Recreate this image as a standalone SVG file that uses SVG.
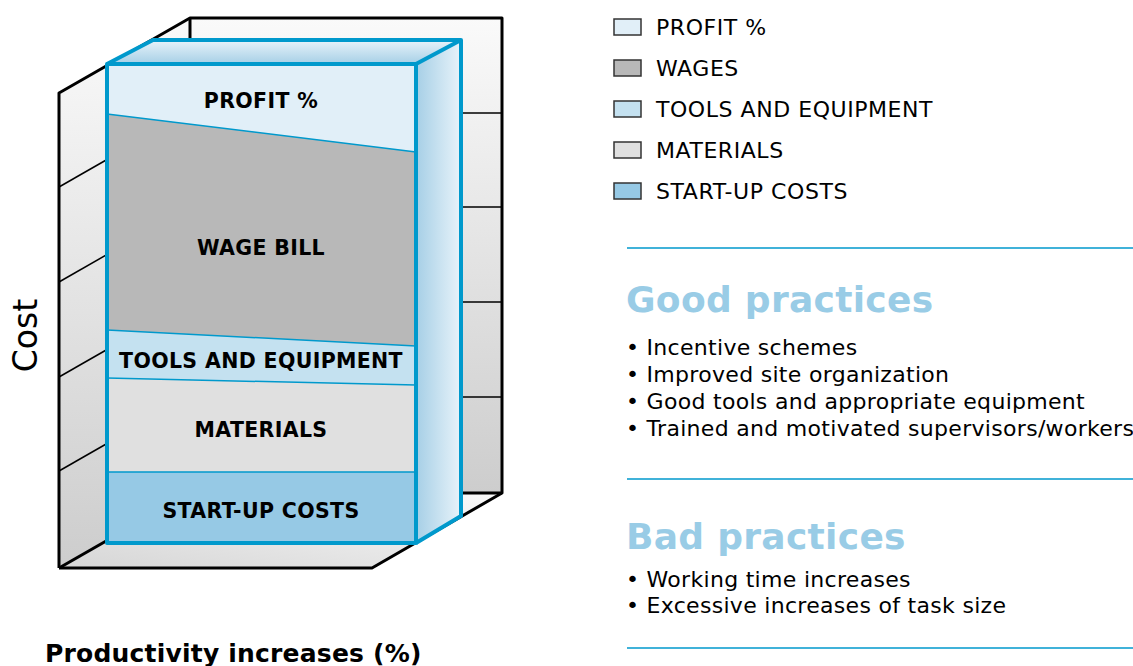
<svg xmlns="http://www.w3.org/2000/svg" width="1133" height="666" viewBox="0 0 1133 666">
<defs>
<linearGradient id="gWall" x1="0" y1="0" x2="0" y2="1">
<stop offset="0" stop-color="#fafafa"/><stop offset="1" stop-color="#cdcdcd"/>
</linearGradient>
<linearGradient id="gFloor" x1="0" y1="1" x2="1" y2="0">
<stop offset="0" stop-color="#d6d6d6"/><stop offset="1" stop-color="#fafafa"/>
</linearGradient>
<linearGradient id="gTop" x1="0" y1="0" x2="0" y2="1">
<stop offset="0" stop-color="#e8f3fa"/><stop offset="1" stop-color="#a6cfe6"/>
</linearGradient>
<linearGradient id="gSide" x1="0" y1="0" x2="1" y2="0">
<stop offset="0" stop-color="#a6cfe6"/><stop offset="1" stop-color="#e8f3fa"/>
</linearGradient>
</defs>
<style>
.frame{fill:none;stroke:#000;stroke-width:3;stroke-linejoin:round}
.grid{stroke:#000;stroke-width:1.5}
.edge{fill:none;stroke:#0099cc;stroke-width:4;stroke-linejoin:round}
.div{fill:none;stroke:#0099cc;stroke-width:1.5}
.lbl{font-family:"DejaVu Sans",Verdana,sans-serif;font-weight:bold;font-size:20.5px;letter-spacing:0.35px;fill:#000;text-anchor:middle}
.leg{font-family:"DejaVu Sans",Verdana,sans-serif;font-size:22px;letter-spacing:0.55px;fill:#000}
.sw{stroke:#333;stroke-width:1.5}
.head{font-family:"DejaVu Sans",Verdana,sans-serif;font-weight:bold;font-size:36px;letter-spacing:0.3px;fill:#99cce6}
.bul{font-family:"DejaVu Sans",Verdana,sans-serif;font-size:22px;letter-spacing:0.3px;fill:#000}
.rule{stroke:#0099cc;stroke-width:1.5}
</style>
<g id="chart-frame">
<polygon points="59,93 190,18 190,493 59,568" fill="url(#gWall)"/>
<rect x="190" y="18" width="312" height="475" fill="url(#gWall)"/>
<polygon points="59,568 190,493 502,493 372,568" fill="url(#gFloor)"/>
<g class="grid">
<line x1="190" y1="113" x2="502" y2="113"/>
<line x1="190" y1="207" x2="502" y2="207"/>
<line x1="190" y1="302" x2="502" y2="302"/>
<line x1="190" y1="397" x2="502" y2="397"/>
<line x1="59" y1="187" x2="190" y2="112"/>
<line x1="59" y1="282" x2="190" y2="207"/>
<line x1="59" y1="377" x2="190" y2="302"/>
<line x1="59" y1="471" x2="190" y2="396"/>
</g>
<polyline class="frame" points="59,568 59,93 190,18 502,18 502,493 372,568 59,568"/>
<polyline class="frame" points="190,18 190,493 502,493"/>
<line class="frame" x1="59" y1="568" x2="190" y2="493"/>
</g>
<g id="bar">
<polygon points="107,64 153,40 461,40 416,64" fill="url(#gTop)"/>
<polygon points="416,64 461,40 461,516 416,543" fill="url(#gSide)"/>
<polygon id="seg-profit" points="107,64 416,64 416,152 107,114" fill="#e1eff8"/>
<polygon id="seg-wage" points="107,114 416,152 416,346 107,330" fill="#b8b8b8"/>
<polygon id="seg-tools" points="107,330 416,346 416,385 107,378" fill="#c4e1f0"/>
<polygon id="seg-materials" points="107,378 416,385 416,472 107,472" fill="#e0e0e0"/>
<rect id="seg-startup" x="107" y="472" width="309" height="71" fill="#96c9e5"/>
<line class="div" x1="107" y1="114" x2="416" y2="152"/>
<line class="div" x1="107" y1="330" x2="416" y2="346"/>
<line class="div" x1="107" y1="378" x2="416" y2="385"/>
<line class="div" x1="107" y1="472" x2="416" y2="472"/>
<rect class="edge" x="107" y="64" width="309" height="479"/>
<polyline class="edge" points="107,64 153,40 461,40 416,64"/>
<polyline class="edge" points="461,40 461,516 416,543"/>
<text class="lbl" x="261" y="108">PROFIT %</text>
<text class="lbl" x="261" y="255">WAGE BILL</text>
<text class="lbl" x="261" y="368">TOOLS AND EQUIPMENT</text>
<text class="lbl" x="261" y="437">MATERIALS</text>
<text class="lbl" x="261" y="518">START-UP COSTS</text>
</g>
<g id="axis-labels">
<text x="37" y="335.5" transform="rotate(-90 37 335.5)" text-anchor="middle" style="font-family:'DejaVu Sans',Verdana,sans-serif;font-size:33px;fill:#000">Cost</text>
<text x="45" y="662" style="font-family:'DejaVu Sans',Verdana,sans-serif;font-weight:bold;font-size:25px;letter-spacing:0.2px;fill:#000">Productivity increases (%)</text>
</g>
<g id="legend">
<rect class="sw" x="614" y="19" width="27" height="16" fill="#e1eff8"/>
<text class="leg" x="656" y="35">PROFIT %</text>
<rect class="sw" x="614" y="60" width="27" height="16" fill="#b8b8b8"/>
<text class="leg" x="656" y="76">WAGES</text>
<rect class="sw" x="614" y="101" width="27" height="16" fill="#c4e1f0"/>
<text class="leg" x="656" y="117">TOOLS AND EQUIPMENT</text>
<rect class="sw" x="614" y="142" width="27" height="16" fill="#e0e0e0"/>
<text class="leg" x="656" y="158">MATERIALS</text>
<rect class="sw" x="614" y="183" width="27" height="16" fill="#96c9e5"/>
<text class="leg" x="656" y="199">START-UP COSTS</text>
</g>
<g id="practices">
<line class="rule" x1="627" y1="248" x2="1133" y2="248"/>
<text class="head" x="626" y="312">Good practices</text>
<text class="bul" x="626" y="355">• Incentive schemes</text>
<text class="bul" x="626" y="382">• Improved site organization</text>
<text class="bul" x="626" y="409">• Good tools and appropriate equipment</text>
<text class="bul" x="626" y="436">• Trained and motivated supervisors/workers</text>
<line class="rule" x1="627" y1="479" x2="1133" y2="479"/>
<text class="head" x="626" y="549">Bad practices</text>
<text class="bul" x="626" y="587">• Working time increases</text>
<text class="bul" x="626" y="613">• Excessive increases of task size</text>
<line class="rule" x1="627" y1="648" x2="1133" y2="648"/>
</g>
</svg>
